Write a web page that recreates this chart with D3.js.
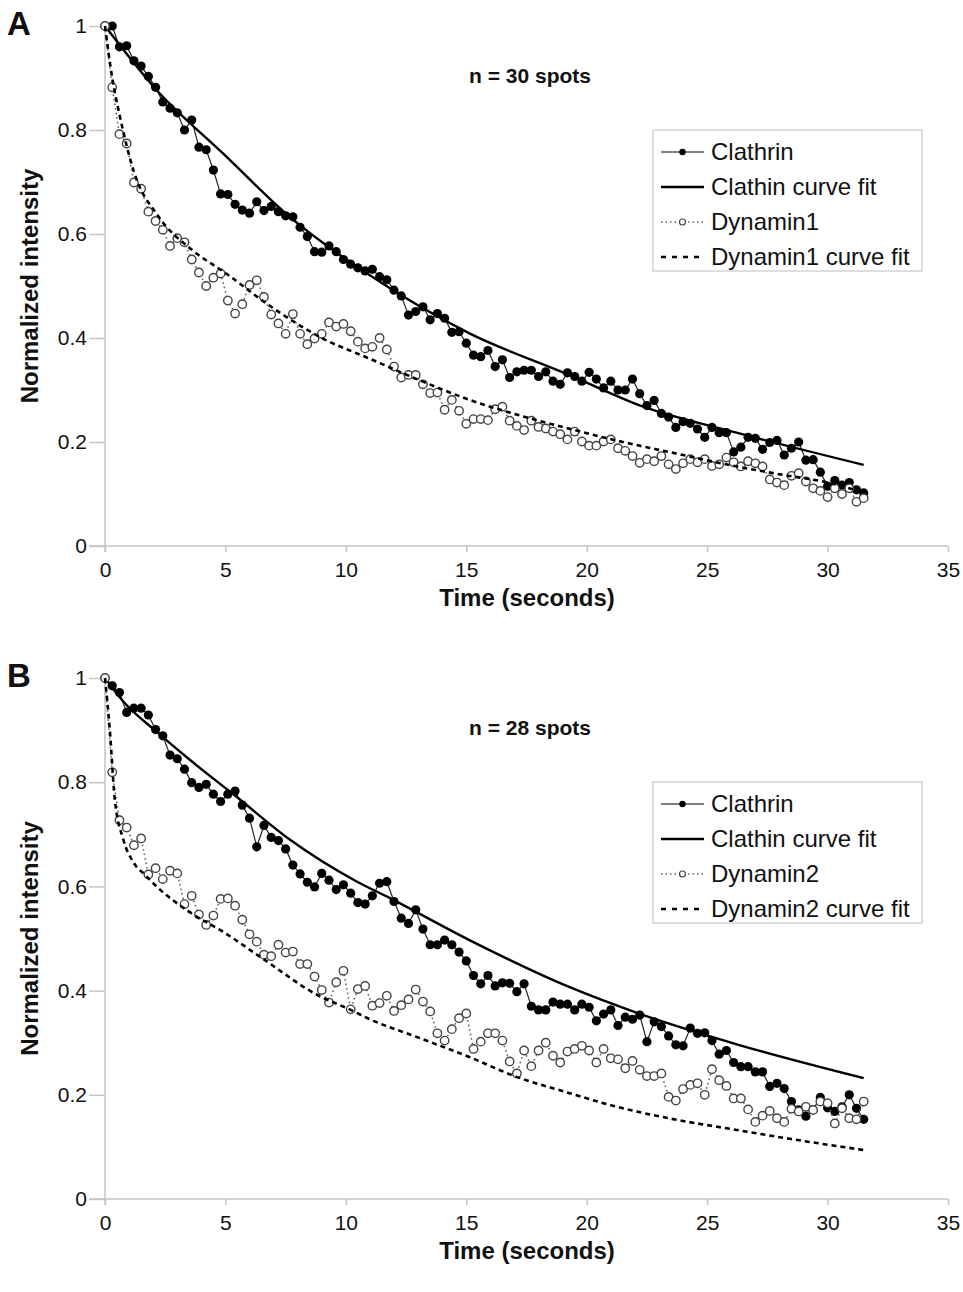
<!DOCTYPE html>
<html>
<head>
<meta charset="utf-8">
<script src="https://cdn.jsdelivr.net/npm/d3@7"></script>
<style>
  body { margin: 0; background: #fff; }
  svg text { font-family: "Liberation Sans", Arial, sans-serif; fill: #111; }
  .axis path, .axis line { stroke: #c4c4c4; stroke-width: 1.5; }
  .axis text { font-size: 21px; }
</style>
</head>
<body>
<svg id="chart" width="963" height="1292"></svg>
<script>
// sample times (s), one frame every 0.3 s
var timeStamps = [
  0, 0.3, 0.6, 0.9, 1.2, 1.5, 1.8, 2.1, 2.4, 2.7, 3, 3.3, 3.6, 3.9, 4.2, 4.5, 4.8, 5.1, 5.4, 5.7,
  6, 6.3, 6.6, 6.9, 7.2, 7.5, 7.8, 8.1, 8.4, 8.7, 9, 9.3, 9.6, 9.9, 10.2, 10.5, 10.8, 11.1, 11.4, 11.7,
  12, 12.3, 12.6, 12.9, 13.2, 13.5, 13.8, 14.1, 14.4, 14.7, 15, 15.3, 15.6, 15.9, 16.2, 16.5, 16.8, 17.1, 17.4, 17.7,
  18, 18.3, 18.6, 18.9, 19.2, 19.5, 19.8, 20.1, 20.4, 20.7, 21, 21.3, 21.6, 21.9, 22.2, 22.5, 22.8, 23.1, 23.4, 23.7,
  24, 24.3, 24.6, 24.9, 25.2, 25.5, 25.8, 26.1, 26.4, 26.7, 27, 27.3, 27.6, 27.9, 28.2, 28.5, 28.8, 29.1, 29.4, 29.7,
  30, 30.3, 30.6, 30.9, 31.2, 31.5
];

// panel A
var clathrinA = [
  1.0, 1.0, .960, .962, .933, .923, .903, .882, .854, .842, .833, .800, .819, .767, .762, .723, .677, .676, .657, .646,
  .640, .662, .645, .653, .643, .635, .633, .613, .595, .566, .565, .577, .566, .551, .542, .535, .529, .532, .518, .512,
  .492, .481, .444, .451, .460, .435, .447, .438, .411, .412, .390, .367, .364, .376, .345, .358, .324, .335, .338, .338,
  .326, .335, .317, .311, .333, .326, .317, .334, .321, .304, .317, .300, .300, .321, .293, .270, .280, .255, .248, .228,
  .239, .236, .225, .209, .228, .218, .218, .181, .190, .209, .207, .186, .199, .203, .175, .188, .200, .165, .166, .142,
  .115, .126, .117, .122, .108, .102
];
var dynamin1A = [
  1.0, .882, .792, .774, .699, .687, .643, .625, .608, .577, .592, .584, .551, .526, .500, .516, .524, .472, .447, .465,
  .502, .511, .479, .445, .428, .408, .446, .408, .388, .399, .408, .430, .422, .427, .413, .393, .380, .383, .400, .378,
  .345, .324, .329, .329, .311, .294, .295, .262, .281, .260, .235, .244, .244, .242, .263, .268, .241, .231, .223, .241,
  .229, .226, .220, .215, .205, .220, .201, .193, .193, .201, .205, .188, .183, .173, .160, .167, .163, .173, .157, .148,
  .159, .167, .161, .167, .154, .157, .170, .161, .153, .163, .159, .153, .128, .122, .117, .135, .140, .124, .111, .106,
  .094, .111, .100, .111, .085, .092
];
var clathrinFitTimesA = [0, 2.14, 4.9, 7.67, 10.98, 15.13, 19.27, 22.17, 26.3, 31.5];
var clathrinFitA = [1.0, 0.877, 0.755, 0.633, 0.521, 0.409, 0.329, 0.271, 0.217, 0.156];
var dynamin1FitTimesA = [0, 0.3, 0.6, 1.2, 2.2, 3.6, 5, 6.9, 9, 11, 13, 15.2, 17.3, 19.4, 21.5, 23.5, 26, 28, 30, 31.5];
var dynamin1FitA = [1.0, 0.90, 0.83, 0.72, 0.635, 0.57, 0.525, 0.46, 0.40, 0.36, 0.32, 0.28, 0.25, 0.224, 0.20, 0.18, 0.155, 0.138, 0.122, 0.103];

// panel B
var clathrinB = [
  1.0, .985, .972, .934, .942, .942, .929, .901, .889, .852, .845, .825, .799, .790, .796, .777, .763, .777, .783, .756,
  .731, .676, .717, .694, .688, .672, .641, .624, .608, .599, .625, .612, .594, .603, .587, .569, .566, .582, .606, .609,
  .571, .539, .529, .555, .518, .488, .488, .497, .488, .474, .457, .429, .413, .429, .409, .415, .414, .398, .413, .370,
  .363, .363, .378, .374, .374, .363, .374, .368, .342, .355, .363, .333, .349, .345, .353, .302, .340, .331, .313, .296,
  .294, .328, .318, .319, .304, .278, .285, .262, .254, .254, .244, .244, .216, .222, .212, .187, .171, .159, .171, .195,
  .175, .168, .177, .200, .174, .153
];
var dynamin2B = [
  1.0, .819, .727, .713, .679, .692, .623, .635, .614, .630, .625, .566, .582, .546, .526, .544, .576, .577, .563, .536,
  .508, .494, .469, .466, .488, .473, .475, .451, .451, .427, .401, .377, .416, .438, .364, .403, .409, .371, .376, .390,
  .361, .372, .383, .402, .379, .360, .318, .304, .326, .347, .356, .288, .302, .318, .318, .304, .264, .241, .285, .255,
  .285, .300, .275, .262, .283, .288, .294, .285, .262, .288, .270, .268, .251, .265, .248, .236, .236, .241, .196, .189,
  .211, .219, .222, .200, .249, .228, .217, .193, .193, .172, .148, .160, .169, .155, .148, .173, .168, .177, .171, .187,
  .184, .145, .174, .155, .153, .187
];
var clathrinFitTimesB = [0, 0.76, 2.14, 3.52, 5.46, 7.67, 10.43, 11.81, 15.13, 19.27, 22.17, 26.3, 31.5];
var clathrinFitB = [1.0, 0.955, 0.897, 0.843, 0.772, 0.69, 0.61, 0.578, 0.497, 0.407, 0.356, 0.296, 0.232];
var dynamin2FitTimesB = [0, 0.2, 0.4, 0.76, 1.17, 1.66, 2.14, 3.5, 4.9, 6.5, 8.8, 10.2, 11, 13, 15.1, 17, 19.3, 21, 23.4, 26.3, 28.5, 31.5];
var dynamin2FitB = [1.0, 0.90, 0.77, 0.69, 0.647, 0.622, 0.60, 0.551, 0.513, 0.463, 0.392, 0.363, 0.345, 0.31, 0.273, 0.236, 0.203, 0.18, 0.155, 0.132, 0.115, 0.094];

var xTicks = [0, 5, 10, 15, 20, 25, 30, 35];
var yTicks = [0, 0.2, 0.4, 0.6, 0.8, 1];

var panels = [
  {
    letter: "A", note: "n = 30 spots", top: 26, bottom: 546,
    clathrin: clathrinA, dynamin: dynamin1A,
    clathrinFit: { t: clathrinFitTimesA, v: clathrinFitA },
    dynaminFit: { t: dynamin1FitTimesA, v: dynamin1FitA },
    legend: ["Clathrin", "Clathin curve fit", "Dynamin1", "Dynamin1 curve fit"]
  },
  {
    letter: "B", note: "n = 28 spots", top: 678, bottom: 1199,
    clathrin: clathrinB, dynamin: dynamin2B,
    clathrinFit: { t: clathrinFitTimesB, v: clathrinFitB },
    dynaminFit: { t: dynamin2FitTimesB, v: dynamin2FitB },
    legend: ["Clathrin", "Clathin curve fit", "Dynamin2", "Dynamin2 curve fit"]
  }
];

var svg = d3.select("#chart");

var x = d3.scaleLinear().domain([0, 35]).range([105, 948]);

panels.forEach(function(p) {
  var y = d3.scaleLinear().domain([0, 1]).range([p.bottom, p.top]);
  var g = svg.append("g");

  // axes
  g.append("g")
    .attr("class", "axis")
    .attr("transform", "translate(0," + p.bottom + ")")
    .call(d3.axisBottom(x).tickValues(xTicks).tickSize(6).tickPadding(10).tickSizeOuter(0))
    .call(a => a.select(".domain").attr("d", "M" + (x(0) - 16) + ",0H" + x(35)));

  g.append("g")
    .attr("class", "axis")
    .attr("transform", "translate(" + x(0) + ",0)")
    .call(d3.axisLeft(y).tickValues(yTicks).tickSize(16).tickPadding(2).tickSizeOuter(0)
      .tickFormat(d => d === 0 || d === 1 ? String(d) : d3.format(".1f")(d)))
    .call(a => a.select(".domain").attr("d", "M0," + p.top + "V" + (p.bottom + 6)));

  g.selectAll(".axis text").style("fill", "#111");

  // axis titles, panel letter, n note
  g.append("text")
    .attr("transform", "translate(30," + ((p.top + p.bottom) / 2) + ") rotate(-90)")
    .attr("text-anchor", "middle")
    .attr("dy", "0.35em")
    .style("font-size", "24px").style("font-weight", "bold")
    .text("Normalized intensity");

  g.append("text")
    .attr("x", 527).attr("y", p.bottom + 60)
    .attr("text-anchor", "middle")
    .style("font-size", "24px").style("font-weight", "bold")
    .text("Time (seconds)");

  g.append("text")
    .attr("x", 7).attr("y", p.top + 9)
    .style("font-size", "33px").style("font-weight", "bold")
    .text(p.letter);

  g.append("text")
    .attr("x", 530).attr("y", p.top + 57)
    .attr("text-anchor", "middle")
    .style("font-size", "21px").style("font-weight", "bold")
    .text(p.note);

  var dataLine = d3.line()
    .x((d, i) => x(timeStamps[i]))
    .y(d => y(d));

  var fitLine = d3.line()
    .x(d => x(d[0]))
    .y(d => y(d[1]))
    .curve(d3.curveMonotoneX);

  // clathrin data
  g.append("path")
    .attr("d", dataLine(p.clathrin))
    .attr("fill", "none")
    .attr("stroke", "#222")
    .attr("stroke-width", 1.2);

  g.selectAll(".clath")
    .data(p.clathrin)
    .enter().append("circle")
    .attr("cx", (d, i) => x(timeStamps[i]))
    .attr("cy", d => y(d))
    .attr("r", 4.6)
    .attr("fill", "#000");

  // clathrin fit
  g.append("path")
    .attr("d", fitLine(d3.zip(p.clathrinFit.t, p.clathrinFit.v)))
    .attr("fill", "none")
    .attr("stroke", "#000")
    .attr("stroke-width", 2.4);

  // dynamin data
  g.append("path")
    .attr("d", dataLine(p.dynamin))
    .attr("fill", "none")
    .attr("stroke", "#666")
    .attr("stroke-width", 1.6)
    .attr("stroke-dasharray", "1.6,3");

  g.selectAll(".dyn")
    .data(p.dynamin)
    .enter().append("circle")
    .attr("cx", (d, i) => x(timeStamps[i]))
    .attr("cy", d => y(d))
    .attr("r", 4.2)
    .attr("fill", "#fff")
    .attr("stroke", "#444")
    .attr("stroke-width", 1.4);

  // dynamin fit
  g.append("path")
    .attr("d", fitLine(d3.zip(p.dynaminFit.t, p.dynaminFit.v)))
    .attr("fill", "none")
    .attr("stroke", "#000")
    .attr("stroke-width", 2.6)
    .attr("stroke-dasharray", "5,4");

  // legend
  var lx = 653, ly = p.top + 104;
  var lg = g.append("g").attr("transform", "translate(" + lx + "," + ly + ")");
  lg.append("rect")
    .attr("width", 269).attr("height", 141)
    .attr("fill", "#fff")
    .attr("stroke", "#c8c8c8")
    .attr("stroke-width", 1.2);

  var rowY = [22, 57, 92, 127];
  p.legend.forEach(function(label, k) {
    var ry = rowY[k];
    var ln = lg.append("line")
      .attr("x1", 8).attr("x2", 51)
      .attr("y1", ry).attr("y2", ry)
      .attr("stroke", "#000");
    if (k === 0) {
      ln.attr("stroke-width", 1.2);
      lg.append("circle").attr("cx", 29.5).attr("cy", ry).attr("r", 3.2).attr("fill", "#000");
    } else if (k === 1) {
      ln.attr("stroke-width", 2.4);
    } else if (k === 2) {
      ln.attr("stroke", "#666").attr("stroke-width", 1.4).attr("stroke-dasharray", "1.5,3");
      lg.append("circle").attr("cx", 29.5).attr("cy", ry).attr("r", 3)
        .attr("fill", "#fff").attr("stroke", "#444").attr("stroke-width", 1.2);
    } else {
      ln.attr("stroke-width", 2.4).attr("stroke-dasharray", "5,6");
    }
    lg.append("text")
      .attr("x", 58).attr("y", ry)
      .attr("dy", "0.35em")
      .style("font-size", "24px")
      .text(label);
  });
});
</script>
</body>
</html>
